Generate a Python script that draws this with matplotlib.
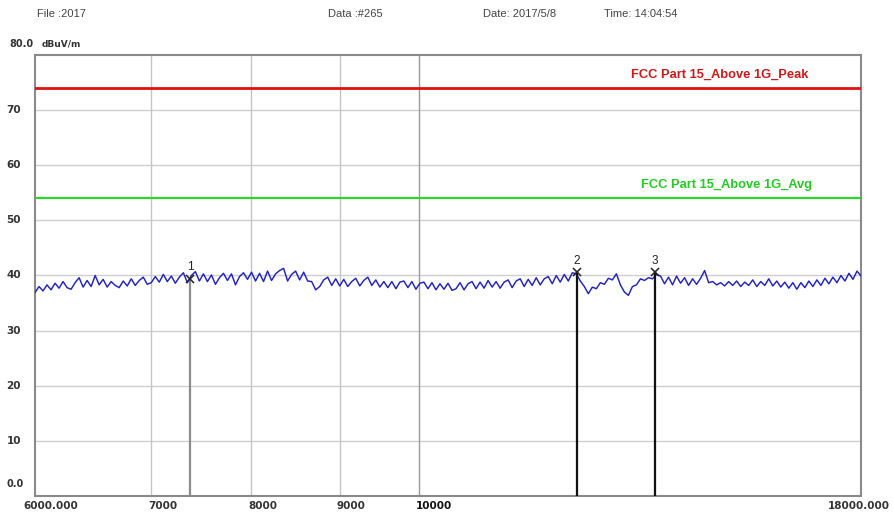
import numpy as np
import matplotlib
matplotlib.use("Agg")
import matplotlib.pyplot as plt
from matplotlib.transforms import offset_copy

plt.rcParams['font.family'] = ['Liberation Sans', 'DejaVu Sans']

# ---- data ----
f_start, f_stop = 6000.0, 18000.0
y_min, y_max = 0.0, 80.0
y_ticks = [10, 20, 30, 40, 50, 60, 70]
x_grid = [7000, 8000, 9000, 10000]
x_mid_labels = [(7000, "7000"), (8000, "8000"), (9000, "9000"), (10000, "10000")]
x_start_label = "6000.000"
x_stop_label = "18000.000"

peak_limit = 74.0
avg_limit = 54.0
peak_label = "FCC Part 15_Above 1G_Peak"
avg_label = "FCC Part 15_Above 1G_Avg"

trace = [
    36.9, 38.0, 37.2, 38.3, 37.4, 38.6, 37.7, 38.9, 37.8, 37.5, 38.7, 39.6, 37.9, 39.1, 38.0,
    40.0, 38.3, 39.3, 37.9, 38.9, 38.2, 37.8, 39.0, 38.1, 39.4, 38.2, 39.1, 39.7, 38.4,
    38.7, 39.8, 38.8, 40.2, 38.9, 39.9, 38.6, 39.7, 40.5, 38.7, 40.0, 40.7, 39.0, 40.3, 38.9,
    40.1, 38.4, 39.6, 40.4, 39.1, 40.3, 38.3, 39.8, 40.5,
    39.3, 40.6, 39.0, 40.4, 38.9, 40.8, 39.1, 40.3, 40.9, 41.3, 39.0, 40.2, 40.8, 39.2, 40.6,
    39.0, 38.9, 37.4,
    38.0, 39.2, 39.7, 38.2, 39.4, 38.1, 39.3, 38.0, 38.9, 39.5, 38.1, 39.1, 39.7, 38.2, 39.2,
    37.9, 38.9, 37.8, 38.9, 37.6, 38.8, 39.0, 37.8, 38.9, 37.5, 38.6, 38.8, 37.6, 38.7, 37.4,
    38.5, 37.5, 38.6, 37.3,
    37.6, 38.7, 37.4, 38.5, 38.9, 37.6, 38.8, 37.7, 39.1, 37.9, 38.9, 37.7, 38.8, 39.2, 37.8,
    39.0, 39.4, 38.0, 39.3, 38.2, 39.6, 38.3, 39.4, 39.8, 38.5, 40.0, 38.8, 40.2, 39.0, 40.5,
    40.3, 39.0, 38.0, 36.7, 37.9, 37.6, 38.7, 38.4, 39.5, 39.2, 40.3, 38.3, 37.0, 36.4, 38.0,
    38.3, 39.4, 39.1, 39.6, 39.4, 40.2,
    39.9, 38.5, 39.7, 38.3, 39.9, 38.6, 39.6, 38.2, 39.4, 38.4, 39.5, 40.9, 38.7, 38.9, 38.3,
    38.7, 38.1, 38.9, 38.2, 39.0, 38.0, 38.8, 38.2, 39.2, 38.0, 38.9, 38.2, 39.4, 38.1, 39.0,
    37.9, 38.8, 37.7, 38.7, 37.5, 38.7, 37.8, 39.0, 38.0, 39.2, 38.2, 39.5, 38.5, 39.7, 38.7,
    40.0, 39.0, 40.4, 39.3, 40.8, 39.9,
]
freqs = np.geomspace(f_start, f_stop, len(trace))

marker_ids = ["1", "2", "3"]
marker_freqs = [7377.0, 12338.0, 13690.0]
marker_levels = [39.4, 40.6, 40.6]
marker_colors = ["#8c8c8c", "#111111", "#111111"]

header = [("File :2017", 37, 'left'), ("Data :#265", 355, 'center'),
          ("Date: 2017/5/8", 520, 'center'), ("Time: 14:04:54", 641, 'center')]

W, H = 893, 517
AX_L, AX_R, AX_T, AX_B = 35, 861, 55, 496
num_font = dict(family='DejaVu Sans', fontweight='bold', fontsize=7.5, color="#333333")

# ---- figure ----
fig = plt.figure(figsize=(W / 100, H / 100), dpi=100)
ax = fig.add_axes([AX_L / W, (H - AX_B) / H, (AX_R - AX_L) / W, (AX_B - AX_T) / H])
ax.set_xscale('log')
ax.set_xlim(f_start, f_stop)
ax.set_ylim(y_min, y_max)

for y in y_ticks:
    ax.axhline(y, color="#cfcfcf", lw=1.0, zorder=1)
for x in x_grid:
    ax.axvline(x, color="#999999" if x == 10000 else "#c4c4c4", lw=1.0, zorder=1)

ax.axhline(peak_limit, color="#e01010", lw=2.0, zorder=3)
ax.axhline(avg_limit, color="#22dd22", lw=1.5, zorder=3)
ax.text((808 - AX_L) / (AX_R - AX_L), peak_limit + 2.4, peak_label, transform=ax.get_yaxis_transform(),
        color="#d01818", fontsize=9.3, fontweight='bold', ha='right', va='center')
ax.text((812 - AX_L) / (AX_R - AX_L), avg_limit + 2.4, avg_label, transform=ax.get_yaxis_transform(),
        color="#22cc22", fontsize=9.3, fontweight='bold', ha='right', va='center')

ax.plot(freqs, trace, color="#2222c4", lw=1.05, zorder=4)

for mid, mf, ml, mc in zip(marker_ids, marker_freqs, marker_levels, marker_colors):
    ax.plot([mf, mf], [y_min, ml], color=mc, lw=1.6, zorder=5)
    ax.plot([mf], [ml], marker='x', color="#222222", ms=5.5, mew=1.1, zorder=6)
    ax.text(mf, ml + 1.0, mid, color="#222222", fontsize=8.5, ha='center', va='bottom', zorder=6)

for s in ax.spines.values():
    s.set_color("#8a8a8a")
    s.set_linewidth(1.5)
ax.set_xticks([])
ax.set_yticks([])
ax.xaxis.set_minor_locator(matplotlib.ticker.NullLocator())

# y labels
for y in y_ticks:
    ax.text(-14 / (AX_R - AX_L), y, str(y), transform=ax.get_yaxis_transform(),
            ha='right', va='center', **num_font)
fig.text(24 / W, 1 - 484 / H, "0.0", ha='right', va='center', **dict(num_font, fontsize=7))
fig.text(9 / W, 1 - 44 / H, "80.0", ha='left', va='center', **dict(num_font, fontsize=7))
fig.text(42 / W, 1 - 44 / H, "dBuV/m", ha='left', va='center', **dict(num_font, fontsize=6.5))

# x labels
label_y = 1 - 506 / H
fig.text(23 / W, label_y, x_start_label, ha='left', va='center', **num_font)
fig.text(890 / W, label_y, x_stop_label, ha='right', va='center', **num_font)
tr = offset_copy(ax.get_xaxis_transform(), fig=fig, x=-3, y=0, units='dots')
for xv, lab in x_mid_labels:
    kw = dict(num_font)
    if xv == 10000:
        kw['color'] = "#111111"
        kw['fontweight'] = 'heavy'
    ax.text(xv, -10 / (AX_B - AX_T), lab, transform=tr, ha='left', va='center', **kw)

for txt, xp, ha in header:
    fig.text(xp / W, 1 - 14 / H, txt, fontsize=8, color="#444444", ha=ha, va='center')

fig.savefig("out.png", dpi=100)
